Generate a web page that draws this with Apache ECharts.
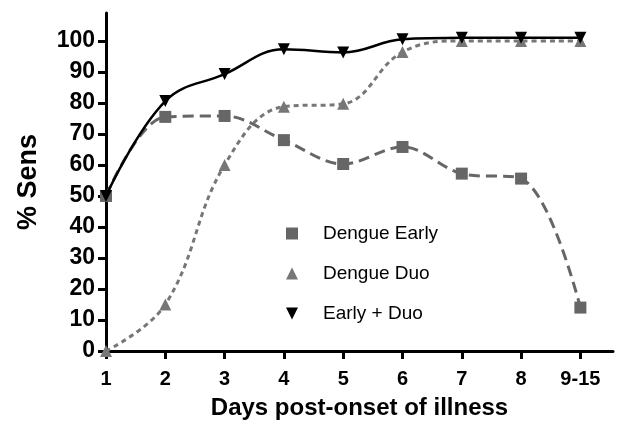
<!DOCTYPE html>
<html>
<head>
<meta charset="utf-8">
<script src="https://cdn.jsdelivr.net/npm/echarts@6/dist/echarts.min.js"></script>
<style>
  html, body { margin: 0; padding: 0; background: #fff; }
  #chart { width: 637px; height: 425px; }
</style>
</head>
<body>
<div id="chart"></div>
<script>
// days post-onset; the last position stands for days 9-15
const days = [1, 2, 3, 4, 5, 6, 7, 8, 9]
const dayLabels = ['1', '2', '3', '4', '5', '6', '7', '8', '9-15']
const yTicks = [0, 10, 20, 30, 40, 50, 60, 70, 80, 90, 100]

const dengueEarly = [50, 75.5, 75.8, 68, 60.3, 65.8, 57.2, 55.6, 14]
const dengueDuo = [0, 15, 60, 78.8, 79.7, 96.4, 100, 100, 100]
const earlyDuo = [50, 80.6, 89.3, 97.3, 96.3, 100.5, 101, 101, 101]

const font = 'Liberation Sans, Arial, sans-serif'
const downTri = 'path://M0,0 L10,0 L5,10 Z'

const pairs = (ys) => days.map((d, i) => [d, ys[i]])

const chart = echarts.init(document.getElementById('chart'))
chart.setOption({
  animation: false,
  backgroundColor: '#fff',
  grid: { left: 106, right: 24, top: 13, bottom: 72 },
  legend: {
    orient: 'vertical',
    left: 281,
    top: 219,
    itemGap: 21,
    itemWidth: 12,
    itemHeight: 12,
    textStyle: { fontFamily: font, fontSize: 19, color: '#000', padding: [0, 0, 0, 20] },
    data: [
      { name: 'Dengue Early', icon: 'rect' },
      { name: 'Dengue Duo', icon: 'triangle' },
      { name: 'Early + Duo', icon: downTri },
    ],
  },
  xAxis: {
    type: 'value',
    min: 1,
    max: 9.55,
    name: 'Days post-onset of illness',
    nameLocation: 'middle',
    nameGap: 45,
    nameTextStyle: { fontFamily: font, fontSize: 24, fontWeight: 'bold', color: '#000' },
    splitLine: { show: false },
    axisLine: { lineStyle: { color: '#000', width: 3 } },
    axisTick: { customValues: days, length: 8, lineStyle: { color: '#000', width: 3 } },
    axisLabel: {
      customValues: days,
      margin: 18,
      fontFamily: font,
      fontSize: 20,
      fontWeight: 'bold',
      color: '#000',
      formatter: (v) => dayLabels[days.indexOf(v)],
    },
  },
  yAxis: {
    type: 'value',
    min: 0,
    max: 109,
    name: '% Sens',
    nameLocation: 'middle',
    nameGap: 64,
    nameTextStyle: { fontFamily: font, fontSize: 27, fontWeight: 'bold', color: '#000' },
    splitLine: { show: false },
    axisLine: { show: true, lineStyle: { color: '#000', width: 3 } },
    axisTick: { show: true, customValues: yTicks, length: 8, lineStyle: { color: '#000', width: 3 } },
    axisLabel: {
      customValues: yTicks,
      margin: 11,
      fontFamily: font,
      fontSize: 23,
      fontWeight: 'bold',
      color: '#000',
    },
  },
  series: [
    {
      name: 'Dengue Early',
      type: 'line',
      smooth: 0.35,
      data: pairs(dengueEarly),
      symbol: 'rect',
      symbolSize: 12,
      itemStyle: { color: '#666' },
      lineStyle: { color: '#666', width: 3, type: [11, 6] },
    },
    {
      name: 'Dengue Duo',
      type: 'line',
      smooth: 0.4,
      data: pairs(dengueDuo),
      symbol: 'triangle',
      symbolSize: 12,
      itemStyle: { color: '#777' },
      lineStyle: { color: '#777', width: 3, type: [5, 4] },
    },
    {
      name: 'Early + Duo',
      type: 'line',
      smooth: 0.4,
      data: pairs(earlyDuo),
      symbol: downTri,
      symbolSize: 12,
      itemStyle: { color: '#000' },
      lineStyle: { color: '#000', width: 2.5 },
    },
  ],
})
</script>
</body>
</html>
